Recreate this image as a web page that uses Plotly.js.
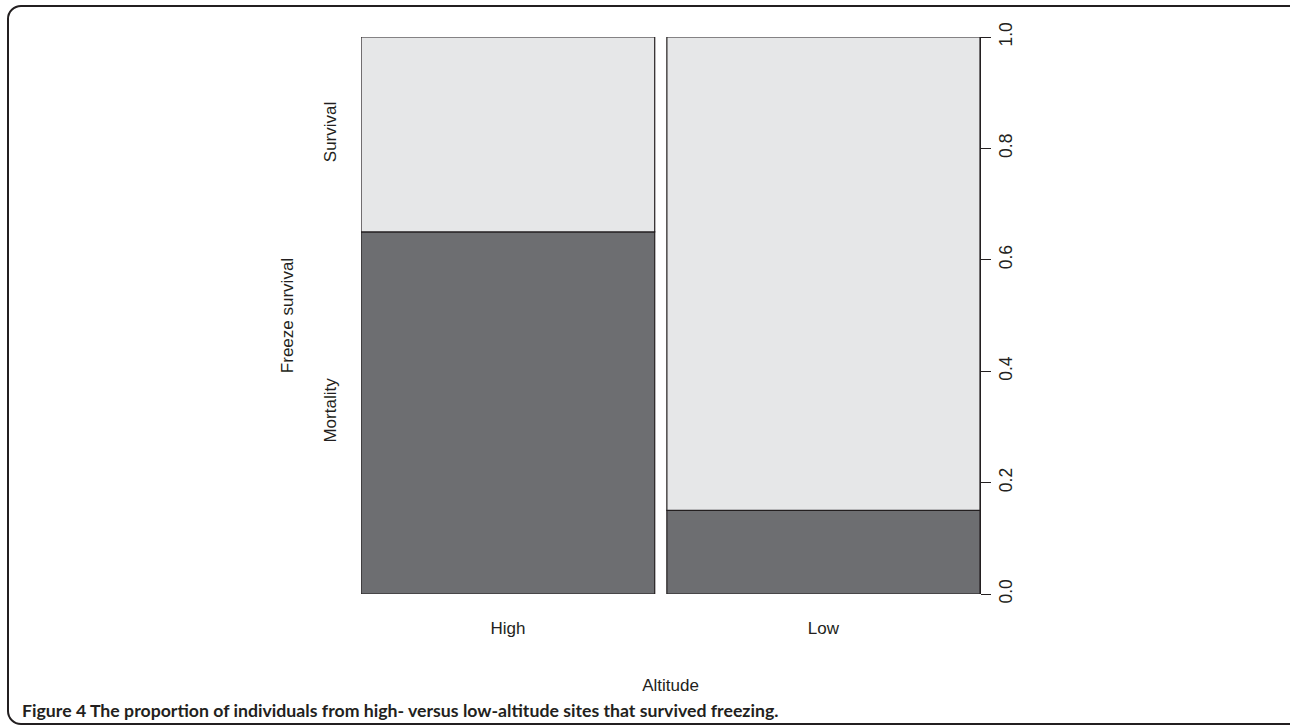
<!DOCTYPE html>
<html>
<head>
<meta charset="utf-8">
<script src="https://cdn.plot.ly/plotly-3.0.1.min.js"></script>
<style>
  html, body { margin: 0; padding: 0; background: #ffffff; }
  #wrap { position: relative; width: 1290px; height: 725px; overflow: hidden; }
  #chart { position: absolute; left: 0; top: 0; width: 1290px; height: 725px; }
  #frame { position: absolute; left: 7px; top: 5px; width: 1300px; height: 716px;
           border: 2px solid #231f20; border-radius: 14px; pointer-events: none; }
</style>
</head>
<body>
<div id="wrap">
  <div id="chart"></div>
  <div id="frame"></div>
</div>
<script>
// ---- data ----
const categories = ["High", "Low"];            // Altitude groups
const groupShare = [0.484, 0.516];             // relative column widths (sample share)
const mortality = [0.65, 0.15];                // proportion Mortality
const survival = [0.35, 0.85];                 // proportion Survival
const levels = ["Mortality", "Survival"];
const yTicks = [0, 0.2, 0.4, 0.6, 0.8, 1.0];
const yTickText = ["0.0", "0.2", "0.4", "0.6", "0.8", "1.0"];
const caption = "Figure 4 The proportion of individuals from high- versus low-altitude sites that survived freezing.";

// ---- spineplot geometry from data ----
const gap = 0.02;
const centers = [];
let acc = 0;
groupShare.forEach((w, i) => {
  centers.push(acc + w / 2);
  acc += w + gap;
});
const xMax = acc - gap;

const lineStyle = { color: "#231f20", width: 1.2 };
const traces = [
  {
    type: "bar", name: levels[0], x: centers, y: mortality, width: groupShare,
    base: [0, 0], marker: { color: "#6d6e71", line: lineStyle },
    hoverinfo: "skip", showlegend: false
  },
  {
    type: "bar", name: levels[1], x: centers, y: survival, width: groupShare,
    base: mortality, marker: { color: "#e6e7e8", line: lineStyle },
    hoverinfo: "skip", showlegend: false
  },
  {
    // invisible helper so the left (level) axis is drawn
    type: "scatter", x: [centers[0]], y: [0], yaxis: "y2", mode: "markers",
    marker: { opacity: 0 }, hoverinfo: "skip", showlegend: false
  }
];

// left labels at the middle of each segment of the first column
const leftTicks = [mortality[0] / 2, mortality[0] + survival[0] / 2];

const font = { family: "Liberation Sans, Arial, sans-serif", size: 17, color: "#231f20" };
const tickFontR = { family: "Liberation Sans, Arial, sans-serif", size: 17.5, color: "#231f20" };

const layout = {
  width: 1290, height: 725,
  margin: { l: 361, r: 310, t: 37, b: 131 },
  paper_bgcolor: "rgba(0,0,0,0)", plot_bgcolor: "rgba(0,0,0,0)",
  barmode: "overlay", bargap: 0,
  font: font,
  xaxis: {
    range: [0, xMax], showgrid: false, zeroline: false, showline: false,
    tickvals: centers, ticktext: categories, ticks: "", ticklabelstandoff: 22,
    tickfont: font,
    title: { text: "Altitude", font: font, standoff: 42 }
  },
  yaxis: {
    range: [0, 1], side: "right", showgrid: false, zeroline: false,
    showline: true, linecolor: "#231f20", linewidth: 1,
    tickvals: yTicks, ticktext: yTickText, ticks: "outside", ticklen: 10,
    tickcolor: "#231f20", tickwidth: 1, tickangle: -90, tickfont: tickFontR,
    ticklabelstandoff: 0
  },
  yaxis2: {
    range: [0, 1], overlaying: "y", side: "left", showgrid: false, zeroline: false,
    showline: false, tickvals: leftTicks, ticktext: levels, ticks: "",
    tickangle: -90, tickfont: font, ticklabelstandoff: 21,
    title: { text: "Freeze survival", font: font, standoff: 22 }
  },
  annotations: [
    {
      xref: "paper", yref: "paper", x: -341 / 619, y: -116 / 557,
      xanchor: "left", yanchor: "middle", showarrow: false,
      text: "<b>" + caption.slice(0, 8) + "</b><b>" + caption.slice(8) + "</b>",
      font: { family: "Lato, Open Sans, sans-serif", size: 17.7, color: "#231f20" }
    }
  ]
};

Plotly.newPlot("chart", traces, layout, { staticPlot: true, displayModeBar: false });
</script>
</body>
</html>
